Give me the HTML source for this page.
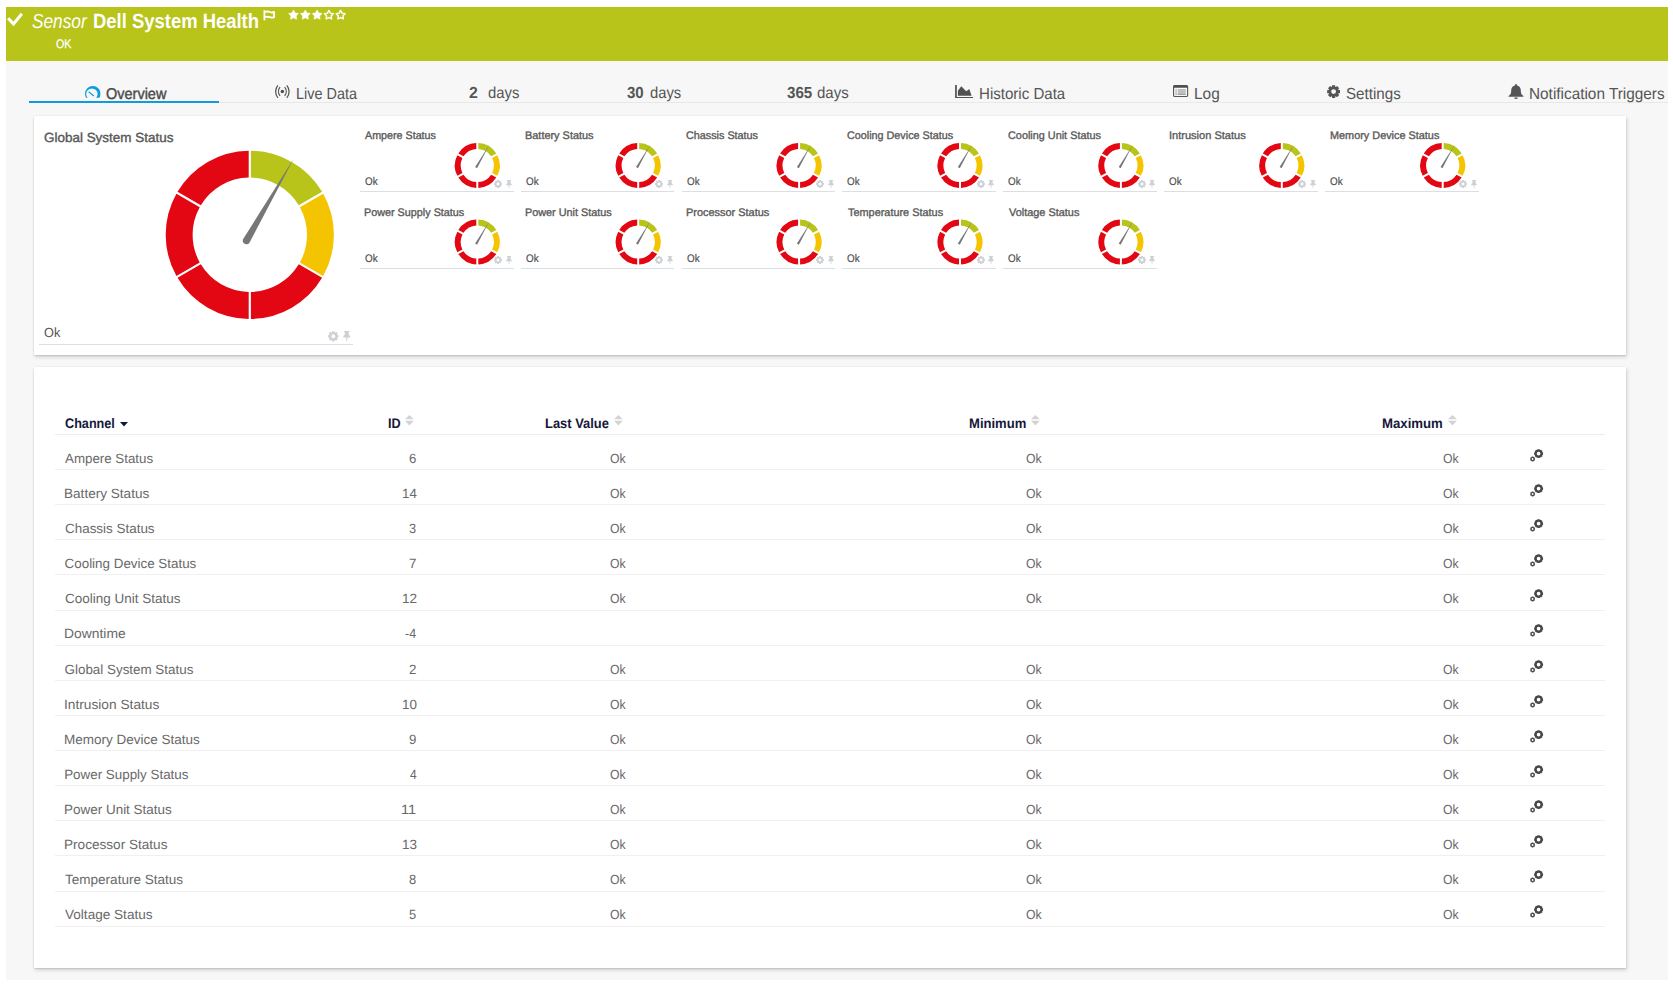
<!DOCTYPE html>
<html><head><meta charset="utf-8"><title>Sensor Dell System Health</title>
<style>
*{box-sizing:border-box}
html,body{margin:0;padding:0}
body{width:1673px;height:987px;background:#fff;position:relative;overflow:hidden;font-family:"Liberation Sans",sans-serif;color:#555;text-rendering:geometricPrecision}
.a{position:absolute;white-space:nowrap;line-height:1;transform-origin:0 0}
#bg{left:6px;top:7px;width:1662px;height:973px;background:#f7f7f7}
#hdr{left:6px;top:7px;width:1662px;height:54px;background:#b8c41a}
.card{background:#fff;box-shadow:1px 1.5px 4px rgba(0,0,0,.15),0 1px 1.5px rgba(0,0,0,.11),-0.5px 0 1.5px rgba(0,0,0,.08)}
#c1{left:34px;top:116px;width:1592px;height:239px}
#c2{left:34px;top:367px;width:1592px;height:601px}
.ti{position:absolute}
.hl{position:absolute;height:1px;background:#dcdfe2}
.rl{position:absolute;height:1px;background:#f0f0f0;left:55px;width:1550px}
svg{position:absolute;overflow:visible}
</style></head>
<body>
<div class="a" id="bg"></div><div class="a" id="hdr"></div>
<svg style="left:0;top:0" width="40" height="40"><path fill="none" stroke="#fff" stroke-width="3" stroke-linejoin="miter" d="M8.15 18.2L13.5 23.9L21.85 13.7"/></svg>
<div class="a" style="left:31.62px;top:12px;font-size:20.2px;color:#fff;font-style:italic;transform:scaleX(0.8553);">Sensor</div>
<div class="a" style="left:93.35px;top:12px;font-size:20.6px;color:#fff;font-weight:bold;transform:scaleX(0.8954);">Dell System Health</div>
<svg style="left:262.6px;top:9.5px" width="13" height="11" viewBox="0 0 13 11"><path fill="#fff" d="M0.5 0.2H2.3V10.4H0.5Z"/><path fill="none" stroke="#fff" stroke-width="1.9" stroke-linejoin="round" d="M2.2 2.0C4.2 1.2 5.6 1.4 6.9 2.0C8.3 2.6 9.8 2.6 11.1 1.9V7.1C9.8 7.8 8.3 7.8 6.9 7.2C5.6 6.6 4.2 6.4 2.2 7.2"/></svg>
<svg style="left:0;top:0" width="400" height="40">
<path fill="#fff" stroke="#fff" stroke-width="0.6" stroke-linejoin="round" d="M293.55 9.95L295.17 12.88L298.45 13.51L296.17 15.95L296.58 19.27L293.55 17.85L290.52 19.27L290.93 15.95L288.65 13.51L291.93 12.88Z"/>
<path fill="#fff" stroke="#fff" stroke-width="0.6" stroke-linejoin="round" d="M305.32 9.95L306.94 12.88L310.22 13.51L307.94 15.95L308.35 19.27L305.32 17.85L302.29 19.27L302.70 15.95L300.42 13.51L303.70 12.88Z"/>
<path fill="#fff" stroke="#fff" stroke-width="0.6" stroke-linejoin="round" d="M317.09 9.95L318.71 12.88L321.99 13.51L319.71 15.95L320.12 19.27L317.09 17.85L314.06 19.27L314.47 15.95L312.19 13.51L315.47 12.88Z"/>
<path fill="none" stroke="#fff" stroke-width="1.45" stroke-linejoin="round" d="M328.86 10.40L330.30 13.12L333.33 13.65L331.19 15.86L331.62 18.90L328.86 17.55L326.10 18.90L326.53 15.86L324.39 13.65L327.42 13.12Z"/>
<path fill="none" stroke="#fff" stroke-width="1.45" stroke-linejoin="round" d="M340.63 10.40L342.07 13.12L345.10 13.65L342.96 15.86L343.39 18.90L340.63 17.55L337.87 18.90L338.30 15.86L336.16 13.65L339.19 13.12Z"/>
</svg>
<div class="a" style="left:55.60px;top:38px;font-size:12.4px;color:#fff;transform:scaleX(0.8622);-webkit-text-stroke:0.3px #fff;">OK</div>
<div class="a" style="left:29px;top:102px;width:1639px;height:1px;background:#e8e8e8"></div>
<div class="a" style="left:29px;top:101px;width:190px;height:2px;background:#0f9cdb"></div>
<div class="a" style="left:105.98px;top:87px;font-size:15.6px;color:#4a4a4a;transform:scaleX(0.9289);-webkit-text-stroke:0.4px #4a4a4a;">Overview</div>
<div class="a" style="left:295.80px;top:87px;font-size:16px;color:#555;transform:scaleX(0.9017);">Live Data</div>
<div class="a" style="left:469.18px;top:86px;font-size:16px;color:#555;font-weight:bold;transform:scaleX(0.9885);">2</div>
<div class="a" style="left:487.86px;top:86px;font-size:16px;color:#555;transform:scaleX(0.9280);">days</div>
<div class="a" style="left:627.05px;top:86px;font-size:16px;color:#555;font-weight:bold;transform:scaleX(0.9380);">30</div>
<div class="a" style="left:649.66px;top:86px;font-size:16px;color:#555;transform:scaleX(0.9249);">days</div>
<div class="a" style="left:787.15px;top:86px;font-size:16px;color:#555;font-weight:bold;transform:scaleX(0.9458);">365</div>
<div class="a" style="left:816.85px;top:86px;font-size:16px;color:#555;transform:scaleX(0.9372);">days</div>
<div class="a" style="left:978.75px;top:87px;font-size:16px;color:#555;transform:scaleX(0.9412);">Historic Data</div>
<div class="a" style="left:1194.22px;top:87px;font-size:16px;color:#555;transform:scaleX(0.9637);">Log</div>
<div class="a" style="left:1345.77px;top:87px;font-size:16px;color:#555;transform:scaleX(0.9472);">Settings</div>
<div class="a" style="left:1528.82px;top:87px;font-size:16px;color:#555;transform:scaleX(0.9593);">Notification Triggers</div>
<svg style="left:84.5px;top:85.7px" width="15.6" height="12.3" viewBox="0 0 15.6 12.3"><defs><clipPath id="ovc"><rect x="0" y="0" width="15.6" height="11.8"/></clipPath></defs><path clip-path="url(#ovc)" fill="#0f9cdb" fill-rule="evenodd" d="M0 7.8A7.8 7.8 0 1 0 15.6 7.8A7.8 7.8 0 1 0 0 7.8ZM1.2 8.1A5.7 5.7 0 1 0 12.6 8.1A5.7 5.7 0 1 0 1.2 8.1Z"/><path stroke="#0f9cdb" stroke-width="1.15" stroke-linecap="round" d="M8.6 9.7L3.9 6.0"/></svg>
<svg style="left:274px;top:85px" width="17" height="13.5" viewBox="0 0 17 13.5"><circle cx="8.35" cy="6.55" r="1.75" fill="#4f4f4f"/><path fill="none" stroke="#555" stroke-width="1.25" d="M3.9 0.3A9.7 9.7 0 0 0 3.9 12.8M12.8 0.3A9.7 9.7 0 0 1 12.8 12.8M6.05 2.2A6.8 6.8 0 0 0 6.05 10.9M10.65 2.2A6.8 6.8 0 0 1 10.65 10.9"/></svg>
<svg style="left:955px;top:85px" width="18" height="13" viewBox="0 0 18 13"><path fill="#505050" d="M0.1 0H1.8V11.9H18V13H0.1ZM2.9 10.7V5.8L6.3 1.2L11.2 6.3L14.3 3.9L16.6 10.7Z"/></svg>
<svg style="left:1173px;top:85.1px" width="15.2" height="12.1" viewBox="0 0 15.2 12.1"><rect x="0.55" y="0.55" width="14.1" height="11" rx="1.3" fill="none" stroke="#555" stroke-width="1.1"/><path d="M0.4 1.2Q0.4 0.2 1.6 0.2H13.6Q14.8 0.2 14.8 1.2V2.7H0.4Z" fill="#4f4f4f"/><path stroke="#8a8a8a" stroke-width="1" d="M2.4 5H3.8M4.8 5H12.8M2.4 7H3.8M4.8 7H12.8"/><path stroke="#666" stroke-width="1" d="M2.4 9.1H3.8M4.8 9.1H12.8"/></svg>
<svg style="left:1326.9px;top:84.9px" width="13.2" height="13.2" viewBox="0 0 20 20"><path fill="#555" fill-rule="evenodd" d="M7.51 2.72L7.67 0.28L12.33 0.28L12.49 2.72L13.39 3.09L15.22 1.47L18.53 4.78L16.91 6.61L17.28 7.51L19.72 7.67L19.72 12.33L17.28 12.49L16.91 13.39L18.53 15.22L15.22 18.53L13.39 16.91L12.49 17.28L12.33 19.72L7.67 19.72L7.51 17.28L6.61 16.91L4.78 18.53L1.47 15.22L3.09 13.39L2.72 12.49L0.28 12.33L0.28 7.67L2.72 7.51L3.09 6.61L1.47 4.78L4.78 1.47L6.61 3.09ZM6.30 10.00A3.70 3.70 0 1 0 13.70 10.00A3.70 3.70 0 1 0 6.30 10.00Z"/></svg>
<svg style="left:1508px;top:84px" width="16" height="15" viewBox="0 0 16 15"><path fill="#555" d="M8 0.2C8.7 0.2 9.2 0.7 9.2 1.4C11.6 2 12.8 4 12.8 6.4C12.8 9.4 13.6 10.6 15.4 12V12.8H0.6V12C2.4 10.6 3.2 9.4 3.2 6.4C3.2 4 4.4 2 6.8 1.4C6.8 0.7 7.3 0.2 8 0.2ZM6.2 13.4H9.8A1.8 1.6 0 0 1 6.2 13.4Z"/></svg>
<div class="a card" id="c1"></div><div class="a card" id="c2"></div>
<div class="a" style="left:44.08px;top:131px;font-size:13.3px;color:#595959;transform:scaleX(1.0118);-webkit-text-stroke:0.4px #595959;">Global System Status</div>
<div class="a" style="left:43.68px;top:326px;font-size:13.3px;color:#555;transform:scaleX(0.9567);">Ok</div>
<div class="hl" style="left:39px;top:344px;width:314px"></div>
<svg style="left:0;top:0" width="1673" height="400">
<path fill="#b8c41a" d="M250.90 150.71A84.10 84.10 0 0 1 322.08 191.80L298.78 205.25A57.20 57.20 0 0 0 250.90 177.61Z"/><path fill="#f5c400" d="M323.18 193.71A84.10 84.10 0 0 1 323.18 275.89L299.88 262.44A57.20 57.20 0 0 0 299.88 207.16Z"/><path fill="#e30613" d="M322.08 277.80A84.10 84.10 0 0 1 250.90 318.89L250.90 291.99A57.20 57.20 0 0 0 298.78 264.35Z"/><path fill="#e30613" d="M248.70 318.89A84.10 84.10 0 0 1 177.52 277.80L200.82 264.35A57.20 57.20 0 0 0 248.70 291.99Z"/><path fill="#e30613" d="M176.42 275.89A84.10 84.10 0 0 1 176.42 193.71L199.72 207.16A57.20 57.20 0 0 0 199.72 262.44Z"/><path fill="#e30613" d="M177.52 191.80A84.10 84.10 0 0 1 248.70 150.71L248.70 177.61A57.20 57.20 0 0 0 200.82 205.25Z"/><path fill="#777" d="M293.80 158.59L249.57 242.40A3.60 3.60 0 0 1 243.33 238.80Z"/>
<path fill="#b8c41a" d="M478.30 143.02A22.50 22.50 0 0 1 496.27 153.40L491.15 156.35A16.60 16.60 0 0 0 478.30 148.93Z"/><path fill="#f5c400" d="M497.27 155.13A22.50 22.50 0 0 1 497.27 175.87L492.15 172.92A16.60 16.60 0 0 0 492.15 158.08Z"/><path fill="#e30613" d="M496.27 177.60A22.50 22.50 0 0 1 478.30 187.98L478.30 182.07A16.60 16.60 0 0 0 491.15 174.65Z"/><path fill="#e30613" d="M476.30 187.98A22.50 22.50 0 0 1 458.33 177.60L463.45 174.65A16.60 16.60 0 0 0 476.30 182.07Z"/><path fill="#e30613" d="M457.33 175.87A22.50 22.50 0 0 1 457.33 155.13L462.45 158.08A16.60 16.60 0 0 0 462.45 172.92Z"/><path fill="#e30613" d="M458.33 153.40A22.50 22.50 0 0 1 476.30 143.02L476.30 148.93A16.60 16.60 0 0 0 463.45 156.35Z"/><path fill="#777" d="M489.20 144.89L477.05 168.13L475.15 167.03Z"/>
<path fill="#b8c41a" d="M639.20 143.02A22.50 22.50 0 0 1 657.17 153.40L652.05 156.35A16.60 16.60 0 0 0 639.20 148.93Z"/><path fill="#f5c400" d="M658.17 155.13A22.50 22.50 0 0 1 658.17 175.87L653.05 172.92A16.60 16.60 0 0 0 653.05 158.08Z"/><path fill="#e30613" d="M657.17 177.60A22.50 22.50 0 0 1 639.20 187.98L639.20 182.07A16.60 16.60 0 0 0 652.05 174.65Z"/><path fill="#e30613" d="M637.20 187.98A22.50 22.50 0 0 1 619.23 177.60L624.35 174.65A16.60 16.60 0 0 0 637.20 182.07Z"/><path fill="#e30613" d="M618.23 175.87A22.50 22.50 0 0 1 618.23 155.13L623.35 158.08A16.60 16.60 0 0 0 623.35 172.92Z"/><path fill="#e30613" d="M619.23 153.40A22.50 22.50 0 0 1 637.20 143.02L637.20 148.93A16.60 16.60 0 0 0 624.35 156.35Z"/><path fill="#777" d="M650.10 144.89L637.95 168.13L636.05 167.03Z"/>
<path fill="#b8c41a" d="M800.10 143.02A22.50 22.50 0 0 1 818.07 153.40L812.95 156.35A16.60 16.60 0 0 0 800.10 148.93Z"/><path fill="#f5c400" d="M819.07 155.13A22.50 22.50 0 0 1 819.07 175.87L813.95 172.92A16.60 16.60 0 0 0 813.95 158.08Z"/><path fill="#e30613" d="M818.07 177.60A22.50 22.50 0 0 1 800.10 187.98L800.10 182.07A16.60 16.60 0 0 0 812.95 174.65Z"/><path fill="#e30613" d="M798.10 187.98A22.50 22.50 0 0 1 780.13 177.60L785.25 174.65A16.60 16.60 0 0 0 798.10 182.07Z"/><path fill="#e30613" d="M779.13 175.87A22.50 22.50 0 0 1 779.13 155.13L784.25 158.08A16.60 16.60 0 0 0 784.25 172.92Z"/><path fill="#e30613" d="M780.13 153.40A22.50 22.50 0 0 1 798.10 143.02L798.10 148.93A16.60 16.60 0 0 0 785.25 156.35Z"/><path fill="#777" d="M811.00 144.89L798.85 168.13L796.95 167.03Z"/>
<path fill="#b8c41a" d="M961.00 143.02A22.50 22.50 0 0 1 978.97 153.40L973.85 156.35A16.60 16.60 0 0 0 961.00 148.93Z"/><path fill="#f5c400" d="M979.97 155.13A22.50 22.50 0 0 1 979.97 175.87L974.85 172.92A16.60 16.60 0 0 0 974.85 158.08Z"/><path fill="#e30613" d="M978.97 177.60A22.50 22.50 0 0 1 961.00 187.98L961.00 182.07A16.60 16.60 0 0 0 973.85 174.65Z"/><path fill="#e30613" d="M959.00 187.98A22.50 22.50 0 0 1 941.03 177.60L946.15 174.65A16.60 16.60 0 0 0 959.00 182.07Z"/><path fill="#e30613" d="M940.03 175.87A22.50 22.50 0 0 1 940.03 155.13L945.15 158.08A16.60 16.60 0 0 0 945.15 172.92Z"/><path fill="#e30613" d="M941.03 153.40A22.50 22.50 0 0 1 959.00 143.02L959.00 148.93A16.60 16.60 0 0 0 946.15 156.35Z"/><path fill="#777" d="M971.90 144.89L959.75 168.13L957.85 167.03Z"/>
<path fill="#b8c41a" d="M1121.90 143.02A22.50 22.50 0 0 1 1139.87 153.40L1134.75 156.35A16.60 16.60 0 0 0 1121.90 148.93Z"/><path fill="#f5c400" d="M1140.87 155.13A22.50 22.50 0 0 1 1140.87 175.87L1135.75 172.92A16.60 16.60 0 0 0 1135.75 158.08Z"/><path fill="#e30613" d="M1139.87 177.60A22.50 22.50 0 0 1 1121.90 187.98L1121.90 182.07A16.60 16.60 0 0 0 1134.75 174.65Z"/><path fill="#e30613" d="M1119.90 187.98A22.50 22.50 0 0 1 1101.93 177.60L1107.05 174.65A16.60 16.60 0 0 0 1119.90 182.07Z"/><path fill="#e30613" d="M1100.93 175.87A22.50 22.50 0 0 1 1100.93 155.13L1106.05 158.08A16.60 16.60 0 0 0 1106.05 172.92Z"/><path fill="#e30613" d="M1101.93 153.40A22.50 22.50 0 0 1 1119.90 143.02L1119.90 148.93A16.60 16.60 0 0 0 1107.05 156.35Z"/><path fill="#777" d="M1132.80 144.89L1120.65 168.13L1118.75 167.03Z"/>
<path fill="#b8c41a" d="M1282.80 143.02A22.50 22.50 0 0 1 1300.77 153.40L1295.65 156.35A16.60 16.60 0 0 0 1282.80 148.93Z"/><path fill="#f5c400" d="M1301.77 155.13A22.50 22.50 0 0 1 1301.77 175.87L1296.65 172.92A16.60 16.60 0 0 0 1296.65 158.08Z"/><path fill="#e30613" d="M1300.77 177.60A22.50 22.50 0 0 1 1282.80 187.98L1282.80 182.07A16.60 16.60 0 0 0 1295.65 174.65Z"/><path fill="#e30613" d="M1280.80 187.98A22.50 22.50 0 0 1 1262.83 177.60L1267.95 174.65A16.60 16.60 0 0 0 1280.80 182.07Z"/><path fill="#e30613" d="M1261.83 175.87A22.50 22.50 0 0 1 1261.83 155.13L1266.95 158.08A16.60 16.60 0 0 0 1266.95 172.92Z"/><path fill="#e30613" d="M1262.83 153.40A22.50 22.50 0 0 1 1280.80 143.02L1280.80 148.93A16.60 16.60 0 0 0 1267.95 156.35Z"/><path fill="#777" d="M1293.70 144.89L1281.55 168.13L1279.65 167.03Z"/>
<path fill="#b8c41a" d="M1443.70 143.02A22.50 22.50 0 0 1 1461.67 153.40L1456.55 156.35A16.60 16.60 0 0 0 1443.70 148.93Z"/><path fill="#f5c400" d="M1462.67 155.13A22.50 22.50 0 0 1 1462.67 175.87L1457.55 172.92A16.60 16.60 0 0 0 1457.55 158.08Z"/><path fill="#e30613" d="M1461.67 177.60A22.50 22.50 0 0 1 1443.70 187.98L1443.70 182.07A16.60 16.60 0 0 0 1456.55 174.65Z"/><path fill="#e30613" d="M1441.70 187.98A22.50 22.50 0 0 1 1423.73 177.60L1428.85 174.65A16.60 16.60 0 0 0 1441.70 182.07Z"/><path fill="#e30613" d="M1422.73 175.87A22.50 22.50 0 0 1 1422.73 155.13L1427.85 158.08A16.60 16.60 0 0 0 1427.85 172.92Z"/><path fill="#e30613" d="M1423.73 153.40A22.50 22.50 0 0 1 1441.70 143.02L1441.70 148.93A16.60 16.60 0 0 0 1428.85 156.35Z"/><path fill="#777" d="M1454.60 144.89L1442.45 168.13L1440.55 167.03Z"/>
<path fill="#b8c41a" d="M478.30 219.52A22.50 22.50 0 0 1 496.27 229.90L491.15 232.85A16.60 16.60 0 0 0 478.30 225.43Z"/><path fill="#f5c400" d="M497.27 231.63A22.50 22.50 0 0 1 497.27 252.37L492.15 249.42A16.60 16.60 0 0 0 492.15 234.58Z"/><path fill="#e30613" d="M496.27 254.10A22.50 22.50 0 0 1 478.30 264.48L478.30 258.57A16.60 16.60 0 0 0 491.15 251.15Z"/><path fill="#e30613" d="M476.30 264.48A22.50 22.50 0 0 1 458.33 254.10L463.45 251.15A16.60 16.60 0 0 0 476.30 258.57Z"/><path fill="#e30613" d="M457.33 252.37A22.50 22.50 0 0 1 457.33 231.63L462.45 234.58A16.60 16.60 0 0 0 462.45 249.42Z"/><path fill="#e30613" d="M458.33 229.90A22.50 22.50 0 0 1 476.30 219.52L476.30 225.43A16.60 16.60 0 0 0 463.45 232.85Z"/><path fill="#777" d="M489.20 221.39L477.05 244.63L475.15 243.53Z"/>
<path fill="#b8c41a" d="M639.20 219.52A22.50 22.50 0 0 1 657.17 229.90L652.05 232.85A16.60 16.60 0 0 0 639.20 225.43Z"/><path fill="#f5c400" d="M658.17 231.63A22.50 22.50 0 0 1 658.17 252.37L653.05 249.42A16.60 16.60 0 0 0 653.05 234.58Z"/><path fill="#e30613" d="M657.17 254.10A22.50 22.50 0 0 1 639.20 264.48L639.20 258.57A16.60 16.60 0 0 0 652.05 251.15Z"/><path fill="#e30613" d="M637.20 264.48A22.50 22.50 0 0 1 619.23 254.10L624.35 251.15A16.60 16.60 0 0 0 637.20 258.57Z"/><path fill="#e30613" d="M618.23 252.37A22.50 22.50 0 0 1 618.23 231.63L623.35 234.58A16.60 16.60 0 0 0 623.35 249.42Z"/><path fill="#e30613" d="M619.23 229.90A22.50 22.50 0 0 1 637.20 219.52L637.20 225.43A16.60 16.60 0 0 0 624.35 232.85Z"/><path fill="#777" d="M650.10 221.39L637.95 244.63L636.05 243.53Z"/>
<path fill="#b8c41a" d="M800.10 219.52A22.50 22.50 0 0 1 818.07 229.90L812.95 232.85A16.60 16.60 0 0 0 800.10 225.43Z"/><path fill="#f5c400" d="M819.07 231.63A22.50 22.50 0 0 1 819.07 252.37L813.95 249.42A16.60 16.60 0 0 0 813.95 234.58Z"/><path fill="#e30613" d="M818.07 254.10A22.50 22.50 0 0 1 800.10 264.48L800.10 258.57A16.60 16.60 0 0 0 812.95 251.15Z"/><path fill="#e30613" d="M798.10 264.48A22.50 22.50 0 0 1 780.13 254.10L785.25 251.15A16.60 16.60 0 0 0 798.10 258.57Z"/><path fill="#e30613" d="M779.13 252.37A22.50 22.50 0 0 1 779.13 231.63L784.25 234.58A16.60 16.60 0 0 0 784.25 249.42Z"/><path fill="#e30613" d="M780.13 229.90A22.50 22.50 0 0 1 798.10 219.52L798.10 225.43A16.60 16.60 0 0 0 785.25 232.85Z"/><path fill="#777" d="M811.00 221.39L798.85 244.63L796.95 243.53Z"/>
<path fill="#b8c41a" d="M961.00 219.52A22.50 22.50 0 0 1 978.97 229.90L973.85 232.85A16.60 16.60 0 0 0 961.00 225.43Z"/><path fill="#f5c400" d="M979.97 231.63A22.50 22.50 0 0 1 979.97 252.37L974.85 249.42A16.60 16.60 0 0 0 974.85 234.58Z"/><path fill="#e30613" d="M978.97 254.10A22.50 22.50 0 0 1 961.00 264.48L961.00 258.57A16.60 16.60 0 0 0 973.85 251.15Z"/><path fill="#e30613" d="M959.00 264.48A22.50 22.50 0 0 1 941.03 254.10L946.15 251.15A16.60 16.60 0 0 0 959.00 258.57Z"/><path fill="#e30613" d="M940.03 252.37A22.50 22.50 0 0 1 940.03 231.63L945.15 234.58A16.60 16.60 0 0 0 945.15 249.42Z"/><path fill="#e30613" d="M941.03 229.90A22.50 22.50 0 0 1 959.00 219.52L959.00 225.43A16.60 16.60 0 0 0 946.15 232.85Z"/><path fill="#777" d="M971.90 221.39L959.75 244.63L957.85 243.53Z"/>
<path fill="#b8c41a" d="M1121.90 219.52A22.50 22.50 0 0 1 1139.87 229.90L1134.75 232.85A16.60 16.60 0 0 0 1121.90 225.43Z"/><path fill="#f5c400" d="M1140.87 231.63A22.50 22.50 0 0 1 1140.87 252.37L1135.75 249.42A16.60 16.60 0 0 0 1135.75 234.58Z"/><path fill="#e30613" d="M1139.87 254.10A22.50 22.50 0 0 1 1121.90 264.48L1121.90 258.57A16.60 16.60 0 0 0 1134.75 251.15Z"/><path fill="#e30613" d="M1119.90 264.48A22.50 22.50 0 0 1 1101.93 254.10L1107.05 251.15A16.60 16.60 0 0 0 1119.90 258.57Z"/><path fill="#e30613" d="M1100.93 252.37A22.50 22.50 0 0 1 1100.93 231.63L1106.05 234.58A16.60 16.60 0 0 0 1106.05 249.42Z"/><path fill="#e30613" d="M1101.93 229.90A22.50 22.50 0 0 1 1119.90 219.52L1119.90 225.43A16.60 16.60 0 0 0 1107.05 232.85Z"/><path fill="#777" d="M1132.80 221.39L1120.65 244.63L1118.75 243.53Z"/>
</svg>
<svg class="ti" style="left:328.4px;top:330.6px" width="10.6" height="10.6" viewBox="0 0 20 20"><path fill="#cdd1d5" fill-rule="evenodd" d="M7.51 2.72L7.67 0.28L12.33 0.28L12.49 2.72L13.39 3.09L15.22 1.47L18.53 4.78L16.91 6.61L17.28 7.51L19.72 7.67L19.72 12.33L17.28 12.49L16.91 13.39L18.53 15.22L15.22 18.53L13.39 16.91L12.49 17.28L12.33 19.72L7.67 19.72L7.51 17.28L6.61 16.91L4.78 18.53L1.47 15.22L3.09 13.39L2.72 12.49L0.28 12.33L0.28 7.67L2.72 7.51L3.09 6.61L1.47 4.78L4.78 1.47L6.61 3.09ZM6.30 10.00A3.70 3.70 0 1 0 13.70 10.00A3.70 3.70 0 1 0 6.30 10.00Z"/></svg><svg class="ti" style="left:342.8px;top:330.9px" width="7.56" height="10.80" viewBox="0 0 14 20"><path fill="#cdd1d5" d="M2 0H12V1.8H10.6V7C12.6 8 13.6 9.8 13.6 12H7.9V17.5L7 20L6.1 17.5V12H0.4C0.4 9.8 1.4 8 3.4 7V1.8H2Z"/></svg>
<div class="a" style="left:365.22px;top:131px;font-size:11px;color:#595959;transform:scaleX(0.9743);-webkit-text-stroke:0.35px #595959;">Ampere Status</div>
<div class="a" style="left:364.70px;top:177px;font-size:11.1px;color:#505050;transform:scaleX(0.8859);-webkit-text-stroke:0.2px #505050;">Ok</div>
<div class="hl" style="left:359.7px;top:191.0px;width:153.9px"></div>
<svg class="ti" style="left:493.9px;top:179.8px" width="8.0" height="8.0" viewBox="0 0 20 20"><path fill="#cdd1d5" fill-rule="evenodd" d="M7.51 2.72L7.67 0.28L12.33 0.28L12.49 2.72L13.39 3.09L15.22 1.47L18.53 4.78L16.91 6.61L17.28 7.51L19.72 7.67L19.72 12.33L17.28 12.49L16.91 13.39L18.53 15.22L15.22 18.53L13.39 16.91L12.49 17.28L12.33 19.72L7.67 19.72L7.51 17.28L6.61 16.91L4.78 18.53L1.47 15.22L3.09 13.39L2.72 12.49L0.28 12.33L0.28 7.67L2.72 7.51L3.09 6.61L1.47 4.78L4.78 1.47L6.61 3.09ZM6.30 10.00A3.70 3.70 0 1 0 13.70 10.00A3.70 3.70 0 1 0 6.30 10.00Z"/></svg><svg class="ti" style="left:505.7px;top:179.6px" width="6.02" height="8.60" viewBox="0 0 14 20"><path fill="#cdd1d5" d="M2 0H12V1.8H10.6V7C12.6 8 13.6 9.8 13.6 12H7.9V17.5L7 20L6.1 17.5V12H0.4C0.4 9.8 1.4 8 3.4 7V1.8H2Z"/></svg>
<div class="a" style="left:525.25px;top:131px;font-size:11px;color:#595959;transform:scaleX(0.9923);-webkit-text-stroke:0.35px #595959;">Battery Status</div>
<div class="a" style="left:525.60px;top:177px;font-size:11.1px;color:#505050;transform:scaleX(0.8859);-webkit-text-stroke:0.2px #505050;">Ok</div>
<div class="hl" style="left:520.6px;top:191.0px;width:153.9px"></div>
<svg class="ti" style="left:654.8px;top:179.8px" width="8.0" height="8.0" viewBox="0 0 20 20"><path fill="#cdd1d5" fill-rule="evenodd" d="M7.51 2.72L7.67 0.28L12.33 0.28L12.49 2.72L13.39 3.09L15.22 1.47L18.53 4.78L16.91 6.61L17.28 7.51L19.72 7.67L19.72 12.33L17.28 12.49L16.91 13.39L18.53 15.22L15.22 18.53L13.39 16.91L12.49 17.28L12.33 19.72L7.67 19.72L7.51 17.28L6.61 16.91L4.78 18.53L1.47 15.22L3.09 13.39L2.72 12.49L0.28 12.33L0.28 7.67L2.72 7.51L3.09 6.61L1.47 4.78L4.78 1.47L6.61 3.09ZM6.30 10.00A3.70 3.70 0 1 0 13.70 10.00A3.70 3.70 0 1 0 6.30 10.00Z"/></svg><svg class="ti" style="left:666.6px;top:179.6px" width="6.02" height="8.60" viewBox="0 0 14 20"><path fill="#cdd1d5" d="M2 0H12V1.8H10.6V7C12.6 8 13.6 9.8 13.6 12H7.9V17.5L7 20L6.1 17.5V12H0.4C0.4 9.8 1.4 8 3.4 7V1.8H2Z"/></svg>
<div class="a" style="left:686.48px;top:131px;font-size:11px;color:#595959;transform:scaleX(0.9817);-webkit-text-stroke:0.35px #595959;">Chassis Status</div>
<div class="a" style="left:686.50px;top:177px;font-size:11.1px;color:#505050;transform:scaleX(0.8859);-webkit-text-stroke:0.2px #505050;">Ok</div>
<div class="hl" style="left:681.5px;top:191.0px;width:153.9px"></div>
<svg class="ti" style="left:815.7px;top:179.8px" width="8.0" height="8.0" viewBox="0 0 20 20"><path fill="#cdd1d5" fill-rule="evenodd" d="M7.51 2.72L7.67 0.28L12.33 0.28L12.49 2.72L13.39 3.09L15.22 1.47L18.53 4.78L16.91 6.61L17.28 7.51L19.72 7.67L19.72 12.33L17.28 12.49L16.91 13.39L18.53 15.22L15.22 18.53L13.39 16.91L12.49 17.28L12.33 19.72L7.67 19.72L7.51 17.28L6.61 16.91L4.78 18.53L1.47 15.22L3.09 13.39L2.72 12.49L0.28 12.33L0.28 7.67L2.72 7.51L3.09 6.61L1.47 4.78L4.78 1.47L6.61 3.09ZM6.30 10.00A3.70 3.70 0 1 0 13.70 10.00A3.70 3.70 0 1 0 6.30 10.00Z"/></svg><svg class="ti" style="left:827.5px;top:179.6px" width="6.02" height="8.60" viewBox="0 0 14 20"><path fill="#cdd1d5" d="M2 0H12V1.8H10.6V7C12.6 8 13.6 9.8 13.6 12H7.9V17.5L7 20L6.1 17.5V12H0.4C0.4 9.8 1.4 8 3.4 7V1.8H2Z"/></svg>
<div class="a" style="left:847.38px;top:131px;font-size:11px;color:#595959;transform:scaleX(0.9806);-webkit-text-stroke:0.35px #595959;">Cooling Device Status</div>
<div class="a" style="left:847.40px;top:177px;font-size:11.1px;color:#505050;transform:scaleX(0.8859);-webkit-text-stroke:0.2px #505050;">Ok</div>
<div class="hl" style="left:842.4px;top:191.0px;width:153.9px"></div>
<svg class="ti" style="left:976.6px;top:179.8px" width="8.0" height="8.0" viewBox="0 0 20 20"><path fill="#cdd1d5" fill-rule="evenodd" d="M7.51 2.72L7.67 0.28L12.33 0.28L12.49 2.72L13.39 3.09L15.22 1.47L18.53 4.78L16.91 6.61L17.28 7.51L19.72 7.67L19.72 12.33L17.28 12.49L16.91 13.39L18.53 15.22L15.22 18.53L13.39 16.91L12.49 17.28L12.33 19.72L7.67 19.72L7.51 17.28L6.61 16.91L4.78 18.53L1.47 15.22L3.09 13.39L2.72 12.49L0.28 12.33L0.28 7.67L2.72 7.51L3.09 6.61L1.47 4.78L4.78 1.47L6.61 3.09ZM6.30 10.00A3.70 3.70 0 1 0 13.70 10.00A3.70 3.70 0 1 0 6.30 10.00Z"/></svg><svg class="ti" style="left:988.4px;top:179.6px" width="6.02" height="8.60" viewBox="0 0 14 20"><path fill="#cdd1d5" d="M2 0H12V1.8H10.6V7C12.6 8 13.6 9.8 13.6 12H7.9V17.5L7 20L6.1 17.5V12H0.4C0.4 9.8 1.4 8 3.4 7V1.8H2Z"/></svg>
<div class="a" style="left:1008.28px;top:131px;font-size:11px;color:#595959;transform:scaleX(0.9869);-webkit-text-stroke:0.35px #595959;">Cooling Unit Status</div>
<div class="a" style="left:1008.30px;top:177px;font-size:11.1px;color:#505050;transform:scaleX(0.8859);-webkit-text-stroke:0.2px #505050;">Ok</div>
<div class="hl" style="left:1003.3px;top:191.0px;width:153.9px"></div>
<svg class="ti" style="left:1137.5px;top:179.8px" width="8.0" height="8.0" viewBox="0 0 20 20"><path fill="#cdd1d5" fill-rule="evenodd" d="M7.51 2.72L7.67 0.28L12.33 0.28L12.49 2.72L13.39 3.09L15.22 1.47L18.53 4.78L16.91 6.61L17.28 7.51L19.72 7.67L19.72 12.33L17.28 12.49L16.91 13.39L18.53 15.22L15.22 18.53L13.39 16.91L12.49 17.28L12.33 19.72L7.67 19.72L7.51 17.28L6.61 16.91L4.78 18.53L1.47 15.22L3.09 13.39L2.72 12.49L0.28 12.33L0.28 7.67L2.72 7.51L3.09 6.61L1.47 4.78L4.78 1.47L6.61 3.09ZM6.30 10.00A3.70 3.70 0 1 0 13.70 10.00A3.70 3.70 0 1 0 6.30 10.00Z"/></svg><svg class="ti" style="left:1149.3px;top:179.6px" width="6.02" height="8.60" viewBox="0 0 14 20"><path fill="#cdd1d5" d="M2 0H12V1.8H10.6V7C12.6 8 13.6 9.8 13.6 12H7.9V17.5L7 20L6.1 17.5V12H0.4C0.4 9.8 1.4 8 3.4 7V1.8H2Z"/></svg>
<div class="a" style="left:1168.73px;top:131px;font-size:11px;color:#595959;transform:scaleX(1.0032);-webkit-text-stroke:0.35px #595959;">Intrusion Status</div>
<div class="a" style="left:1169.20px;top:177px;font-size:11.1px;color:#505050;transform:scaleX(0.8859);-webkit-text-stroke:0.2px #505050;">Ok</div>
<div class="hl" style="left:1164.2px;top:191.0px;width:153.9px"></div>
<svg class="ti" style="left:1298.4px;top:179.8px" width="8.0" height="8.0" viewBox="0 0 20 20"><path fill="#cdd1d5" fill-rule="evenodd" d="M7.51 2.72L7.67 0.28L12.33 0.28L12.49 2.72L13.39 3.09L15.22 1.47L18.53 4.78L16.91 6.61L17.28 7.51L19.72 7.67L19.72 12.33L17.28 12.49L16.91 13.39L18.53 15.22L15.22 18.53L13.39 16.91L12.49 17.28L12.33 19.72L7.67 19.72L7.51 17.28L6.61 16.91L4.78 18.53L1.47 15.22L3.09 13.39L2.72 12.49L0.28 12.33L0.28 7.67L2.72 7.51L3.09 6.61L1.47 4.78L4.78 1.47L6.61 3.09ZM6.30 10.00A3.70 3.70 0 1 0 13.70 10.00A3.70 3.70 0 1 0 6.30 10.00Z"/></svg><svg class="ti" style="left:1310.2px;top:179.6px" width="6.02" height="8.60" viewBox="0 0 14 20"><path fill="#cdd1d5" d="M2 0H12V1.8H10.6V7C12.6 8 13.6 9.8 13.6 12H7.9V17.5L7 20L6.1 17.5V12H0.4C0.4 9.8 1.4 8 3.4 7V1.8H2Z"/></svg>
<div class="a" style="left:1329.75px;top:131px;font-size:11px;color:#595959;transform:scaleX(0.9883);-webkit-text-stroke:0.35px #595959;">Memory Device Status</div>
<div class="a" style="left:1330.10px;top:177px;font-size:11.1px;color:#505050;transform:scaleX(0.8859);-webkit-text-stroke:0.2px #505050;">Ok</div>
<div class="hl" style="left:1325.1px;top:191.0px;width:153.9px"></div>
<svg class="ti" style="left:1459.3px;top:179.8px" width="8.0" height="8.0" viewBox="0 0 20 20"><path fill="#cdd1d5" fill-rule="evenodd" d="M7.51 2.72L7.67 0.28L12.33 0.28L12.49 2.72L13.39 3.09L15.22 1.47L18.53 4.78L16.91 6.61L17.28 7.51L19.72 7.67L19.72 12.33L17.28 12.49L16.91 13.39L18.53 15.22L15.22 18.53L13.39 16.91L12.49 17.28L12.33 19.72L7.67 19.72L7.51 17.28L6.61 16.91L4.78 18.53L1.47 15.22L3.09 13.39L2.72 12.49L0.28 12.33L0.28 7.67L2.72 7.51L3.09 6.61L1.47 4.78L4.78 1.47L6.61 3.09ZM6.30 10.00A3.70 3.70 0 1 0 13.70 10.00A3.70 3.70 0 1 0 6.30 10.00Z"/></svg><svg class="ti" style="left:1471.1px;top:179.6px" width="6.02" height="8.60" viewBox="0 0 14 20"><path fill="#cdd1d5" d="M2 0H12V1.8H10.6V7C12.6 8 13.6 9.8 13.6 12H7.9V17.5L7 20L6.1 17.5V12H0.4C0.4 9.8 1.4 8 3.4 7V1.8H2Z"/></svg>
<div class="a" style="left:364.36px;top:208px;font-size:11px;color:#595959;transform:scaleX(0.9818);-webkit-text-stroke:0.35px #595959;">Power Supply Status</div>
<div class="a" style="left:364.70px;top:254px;font-size:11.1px;color:#505050;transform:scaleX(0.8859);-webkit-text-stroke:0.2px #505050;">Ok</div>
<div class="hl" style="left:359.7px;top:267.5px;width:153.9px"></div>
<svg class="ti" style="left:493.9px;top:256.3px" width="8.0" height="8.0" viewBox="0 0 20 20"><path fill="#cdd1d5" fill-rule="evenodd" d="M7.51 2.72L7.67 0.28L12.33 0.28L12.49 2.72L13.39 3.09L15.22 1.47L18.53 4.78L16.91 6.61L17.28 7.51L19.72 7.67L19.72 12.33L17.28 12.49L16.91 13.39L18.53 15.22L15.22 18.53L13.39 16.91L12.49 17.28L12.33 19.72L7.67 19.72L7.51 17.28L6.61 16.91L4.78 18.53L1.47 15.22L3.09 13.39L2.72 12.49L0.28 12.33L0.28 7.67L2.72 7.51L3.09 6.61L1.47 4.78L4.78 1.47L6.61 3.09ZM6.30 10.00A3.70 3.70 0 1 0 13.70 10.00A3.70 3.70 0 1 0 6.30 10.00Z"/></svg><svg class="ti" style="left:505.7px;top:256.1px" width="6.02" height="8.60" viewBox="0 0 14 20"><path fill="#cdd1d5" d="M2 0H12V1.8H10.6V7C12.6 8 13.6 9.8 13.6 12H7.9V17.5L7 20L6.1 17.5V12H0.4C0.4 9.8 1.4 8 3.4 7V1.8H2Z"/></svg>
<div class="a" style="left:525.26px;top:208px;font-size:11px;color:#595959;transform:scaleX(0.9854);-webkit-text-stroke:0.35px #595959;">Power Unit Status</div>
<div class="a" style="left:525.60px;top:254px;font-size:11.1px;color:#505050;transform:scaleX(0.8859);-webkit-text-stroke:0.2px #505050;">Ok</div>
<div class="hl" style="left:520.6px;top:267.5px;width:153.9px"></div>
<svg class="ti" style="left:654.8px;top:256.3px" width="8.0" height="8.0" viewBox="0 0 20 20"><path fill="#cdd1d5" fill-rule="evenodd" d="M7.51 2.72L7.67 0.28L12.33 0.28L12.49 2.72L13.39 3.09L15.22 1.47L18.53 4.78L16.91 6.61L17.28 7.51L19.72 7.67L19.72 12.33L17.28 12.49L16.91 13.39L18.53 15.22L15.22 18.53L13.39 16.91L12.49 17.28L12.33 19.72L7.67 19.72L7.51 17.28L6.61 16.91L4.78 18.53L1.47 15.22L3.09 13.39L2.72 12.49L0.28 12.33L0.28 7.67L2.72 7.51L3.09 6.61L1.47 4.78L4.78 1.47L6.61 3.09ZM6.30 10.00A3.70 3.70 0 1 0 13.70 10.00A3.70 3.70 0 1 0 6.30 10.00Z"/></svg><svg class="ti" style="left:666.6px;top:256.1px" width="6.02" height="8.60" viewBox="0 0 14 20"><path fill="#cdd1d5" d="M2 0H12V1.8H10.6V7C12.6 8 13.6 9.8 13.6 12H7.9V17.5L7 20L6.1 17.5V12H0.4C0.4 9.8 1.4 8 3.4 7V1.8H2Z"/></svg>
<div class="a" style="left:686.15px;top:208px;font-size:11px;color:#595959;transform:scaleX(0.9941);-webkit-text-stroke:0.35px #595959;">Processor Status</div>
<div class="a" style="left:686.50px;top:254px;font-size:11.1px;color:#505050;transform:scaleX(0.8859);-webkit-text-stroke:0.2px #505050;">Ok</div>
<div class="hl" style="left:681.5px;top:267.5px;width:153.9px"></div>
<svg class="ti" style="left:815.7px;top:256.3px" width="8.0" height="8.0" viewBox="0 0 20 20"><path fill="#cdd1d5" fill-rule="evenodd" d="M7.51 2.72L7.67 0.28L12.33 0.28L12.49 2.72L13.39 3.09L15.22 1.47L18.53 4.78L16.91 6.61L17.28 7.51L19.72 7.67L19.72 12.33L17.28 12.49L16.91 13.39L18.53 15.22L15.22 18.53L13.39 16.91L12.49 17.28L12.33 19.72L7.67 19.72L7.51 17.28L6.61 16.91L4.78 18.53L1.47 15.22L3.09 13.39L2.72 12.49L0.28 12.33L0.28 7.67L2.72 7.51L3.09 6.61L1.47 4.78L4.78 1.47L6.61 3.09ZM6.30 10.00A3.70 3.70 0 1 0 13.70 10.00A3.70 3.70 0 1 0 6.30 10.00Z"/></svg><svg class="ti" style="left:827.5px;top:256.1px" width="6.02" height="8.60" viewBox="0 0 14 20"><path fill="#cdd1d5" d="M2 0H12V1.8H10.6V7C12.6 8 13.6 9.8 13.6 12H7.9V17.5L7 20L6.1 17.5V12H0.4C0.4 9.8 1.4 8 3.4 7V1.8H2Z"/></svg>
<div class="a" style="left:847.71px;top:208px;font-size:11px;color:#595959;transform:scaleX(0.9907);-webkit-text-stroke:0.35px #595959;">Temperature Status</div>
<div class="a" style="left:847.40px;top:254px;font-size:11.1px;color:#505050;transform:scaleX(0.8859);-webkit-text-stroke:0.2px #505050;">Ok</div>
<div class="hl" style="left:842.4px;top:267.5px;width:153.9px"></div>
<svg class="ti" style="left:976.6px;top:256.3px" width="8.0" height="8.0" viewBox="0 0 20 20"><path fill="#cdd1d5" fill-rule="evenodd" d="M7.51 2.72L7.67 0.28L12.33 0.28L12.49 2.72L13.39 3.09L15.22 1.47L18.53 4.78L16.91 6.61L17.28 7.51L19.72 7.67L19.72 12.33L17.28 12.49L16.91 13.39L18.53 15.22L15.22 18.53L13.39 16.91L12.49 17.28L12.33 19.72L7.67 19.72L7.51 17.28L6.61 16.91L4.78 18.53L1.47 15.22L3.09 13.39L2.72 12.49L0.28 12.33L0.28 7.67L2.72 7.51L3.09 6.61L1.47 4.78L4.78 1.47L6.61 3.09ZM6.30 10.00A3.70 3.70 0 1 0 13.70 10.00A3.70 3.70 0 1 0 6.30 10.00Z"/></svg><svg class="ti" style="left:988.4px;top:256.1px" width="6.02" height="8.60" viewBox="0 0 14 20"><path fill="#cdd1d5" d="M2 0H12V1.8H10.6V7C12.6 8 13.6 9.8 13.6 12H7.9V17.5L7 20L6.1 17.5V12H0.4C0.4 9.8 1.4 8 3.4 7V1.8H2Z"/></svg>
<div class="a" style="left:1008.82px;top:208px;font-size:11px;color:#595959;transform:scaleX(0.9922);-webkit-text-stroke:0.35px #595959;">Voltage Status</div>
<div class="a" style="left:1008.30px;top:254px;font-size:11.1px;color:#505050;transform:scaleX(0.8859);-webkit-text-stroke:0.2px #505050;">Ok</div>
<div class="hl" style="left:1003.3px;top:267.5px;width:153.9px"></div>
<svg class="ti" style="left:1137.5px;top:256.3px" width="8.0" height="8.0" viewBox="0 0 20 20"><path fill="#cdd1d5" fill-rule="evenodd" d="M7.51 2.72L7.67 0.28L12.33 0.28L12.49 2.72L13.39 3.09L15.22 1.47L18.53 4.78L16.91 6.61L17.28 7.51L19.72 7.67L19.72 12.33L17.28 12.49L16.91 13.39L18.53 15.22L15.22 18.53L13.39 16.91L12.49 17.28L12.33 19.72L7.67 19.72L7.51 17.28L6.61 16.91L4.78 18.53L1.47 15.22L3.09 13.39L2.72 12.49L0.28 12.33L0.28 7.67L2.72 7.51L3.09 6.61L1.47 4.78L4.78 1.47L6.61 3.09ZM6.30 10.00A3.70 3.70 0 1 0 13.70 10.00A3.70 3.70 0 1 0 6.30 10.00Z"/></svg><svg class="ti" style="left:1149.3px;top:256.1px" width="6.02" height="8.60" viewBox="0 0 14 20"><path fill="#cdd1d5" d="M2 0H12V1.8H10.6V7C12.6 8 13.6 9.8 13.6 12H7.9V17.5L7 20L6.1 17.5V12H0.4C0.4 9.8 1.4 8 3.4 7V1.8H2Z"/></svg>
<div class="a" style="left:64.74px;top:417px;font-size:13.9px;color:#15173a;font-weight:bold;transform:scaleX(0.9103);">Channel</div>
<svg style="left:120.2px;top:422px" width="8" height="4.6" viewBox="0 0 8 4.6"><path fill="#15173a" d="M0 0H8L4 4.6Z"/></svg>
<div class="a" style="left:387.63px;top:417px;font-size:13.9px;color:#15173a;font-weight:bold;transform:scaleX(0.9095);">ID</div>
<svg style="left:405.35px;top:415.2px" width="8.8" height="10.6" viewBox="0 0 8.8 10.6"><path fill="#d3d3d6" d="M0 4.2L4.4 0L8.8 4.2ZM0 5.7L4.4 10.6L8.8 5.7Z"/></svg>
<div class="a" style="left:545.31px;top:417px;font-size:13.9px;color:#15173a;font-weight:bold;transform:scaleX(0.9292);">Last Value</div>
<svg style="left:614.15px;top:415.2px" width="8.8" height="10.6" viewBox="0 0 8.8 10.6"><path fill="#d3d3d6" d="M0 4.2L4.4 0L8.8 4.2ZM0 5.7L4.4 10.6L8.8 5.7Z"/></svg>
<div class="a" style="left:968.70px;top:417px;font-size:13.9px;color:#15173a;font-weight:bold;transform:scaleX(0.9405);">Minimum</div>
<svg style="left:1031.15px;top:415.2px" width="8.8" height="10.6" viewBox="0 0 8.8 10.6"><path fill="#d3d3d6" d="M0 4.2L4.4 0L8.8 4.2ZM0 5.7L4.4 10.6L8.8 5.7Z"/></svg>
<div class="a" style="left:1382.19px;top:417px;font-size:13.9px;color:#15173a;font-weight:bold;transform:scaleX(0.9497);">Maximum</div>
<svg style="left:1447.95px;top:415.2px" width="8.8" height="10.6" viewBox="0 0 8.8 10.6"><path fill="#d3d3d6" d="M0 4.2L4.4 0L8.8 4.2ZM0 5.7L4.4 10.6L8.8 5.7Z"/></svg>
<div class="rl" style="top:434px;background:#ececec"></div>
<div class="a" style="left:65.25px;top:452px;font-size:13.4px;color:#696969;transform:scaleX(0.9953);">Ampere Status</div>
<div class="a" style="left:409.19px;top:452px;font-size:13.4px;color:#696969;transform:scaleX(0.9870);">6</div>
<div class="a" style="left:609.50px;top:452px;font-size:13.4px;color:#696969;transform:scaleX(0.9134);">Ok</div>
<div class="a" style="left:1026.40px;top:452px;font-size:13.4px;color:#696969;transform:scaleX(0.9134);">Ok</div>
<div class="a" style="left:1443.40px;top:452px;font-size:13.4px;color:#696969;transform:scaleX(0.9134);">Ok</div>
<svg style="left:1529.6px;top:448.7px" width="14" height="13" viewBox="0 0 14 13"><path fill="#484848" fill-rule="evenodd" d="M7.30 0.82L7.53 0.13L9.67 0.13L9.90 0.82L10.36 1.01L11.00 0.68L12.52 2.20L12.19 2.84L12.38 3.30L13.07 3.53L13.07 5.67L12.38 5.90L12.19 6.36L12.52 7.00L11.00 8.52L10.36 8.19L9.90 8.38L9.67 9.07L7.53 9.07L7.30 8.38L6.84 8.19L6.20 8.52L4.68 7.00L5.01 6.36L4.82 5.90L4.13 5.67L4.13 3.53L4.82 3.30L5.01 2.84L4.68 2.20L6.20 0.68L6.84 1.01ZM6.75 4.60A1.85 1.85 0 1 0 10.45 4.60A1.85 1.85 0 1 0 6.75 4.60ZM1.71 8.10L1.81 7.57L3.39 7.57L3.49 8.10L3.80 8.28L4.31 8.10L5.09 9.47L4.69 9.82L4.69 10.18L5.09 10.53L4.31 11.90L3.80 11.72L3.49 11.90L3.39 12.43L1.81 12.43L1.71 11.90L1.40 11.72L0.89 11.90L0.11 10.53L0.51 10.18L0.51 9.82L0.11 9.47L0.89 8.10L1.40 8.28ZM1.70 10.00A0.90 0.90 0 1 0 3.50 10.00A0.90 0.90 0 1 0 1.70 10.00Z"/></svg>
<div class="rl" style="top:469.0px"></div>
<div class="a" style="left:64.16px;top:487px;font-size:13.4px;color:#696969;transform:scaleX(1.0141);">Battery Status</div>
<div class="a" style="left:401.55px;top:487px;font-size:13.4px;color:#696969;transform:scaleX(0.9927);">14</div>
<div class="a" style="left:609.50px;top:487px;font-size:13.4px;color:#696969;transform:scaleX(0.9134);">Ok</div>
<div class="a" style="left:1026.40px;top:487px;font-size:13.4px;color:#696969;transform:scaleX(0.9134);">Ok</div>
<div class="a" style="left:1443.40px;top:487px;font-size:13.4px;color:#696969;transform:scaleX(0.9134);">Ok</div>
<svg style="left:1529.6px;top:483.7px" width="14" height="13" viewBox="0 0 14 13"><path fill="#484848" fill-rule="evenodd" d="M7.30 0.82L7.53 0.13L9.67 0.13L9.90 0.82L10.36 1.01L11.00 0.68L12.52 2.20L12.19 2.84L12.38 3.30L13.07 3.53L13.07 5.67L12.38 5.90L12.19 6.36L12.52 7.00L11.00 8.52L10.36 8.19L9.90 8.38L9.67 9.07L7.53 9.07L7.30 8.38L6.84 8.19L6.20 8.52L4.68 7.00L5.01 6.36L4.82 5.90L4.13 5.67L4.13 3.53L4.82 3.30L5.01 2.84L4.68 2.20L6.20 0.68L6.84 1.01ZM6.75 4.60A1.85 1.85 0 1 0 10.45 4.60A1.85 1.85 0 1 0 6.75 4.60ZM1.71 8.10L1.81 7.57L3.39 7.57L3.49 8.10L3.80 8.28L4.31 8.10L5.09 9.47L4.69 9.82L4.69 10.18L5.09 10.53L4.31 11.90L3.80 11.72L3.49 11.90L3.39 12.43L1.81 12.43L1.71 11.90L1.40 11.72L0.89 11.90L0.11 10.53L0.51 10.18L0.51 9.82L0.11 9.47L0.89 8.10L1.40 8.28ZM1.70 10.00A0.90 0.90 0 1 0 3.50 10.00A0.90 0.90 0 1 0 1.70 10.00Z"/></svg>
<div class="rl" style="top:504.1px"></div>
<div class="a" style="left:64.58px;top:522px;font-size:13.4px;color:#696969;transform:scaleX(1.0029);">Chassis Status</div>
<div class="a" style="left:409.40px;top:522px;font-size:13.4px;color:#696969;transform:scaleX(0.9562);">3</div>
<div class="a" style="left:609.50px;top:522px;font-size:13.4px;color:#696969;transform:scaleX(0.9134);">Ok</div>
<div class="a" style="left:1026.40px;top:522px;font-size:13.4px;color:#696969;transform:scaleX(0.9134);">Ok</div>
<div class="a" style="left:1443.40px;top:522px;font-size:13.4px;color:#696969;transform:scaleX(0.9134);">Ok</div>
<svg style="left:1529.6px;top:518.7px" width="14" height="13" viewBox="0 0 14 13"><path fill="#484848" fill-rule="evenodd" d="M7.30 0.82L7.53 0.13L9.67 0.13L9.90 0.82L10.36 1.01L11.00 0.68L12.52 2.20L12.19 2.84L12.38 3.30L13.07 3.53L13.07 5.67L12.38 5.90L12.19 6.36L12.52 7.00L11.00 8.52L10.36 8.19L9.90 8.38L9.67 9.07L7.53 9.07L7.30 8.38L6.84 8.19L6.20 8.52L4.68 7.00L5.01 6.36L4.82 5.90L4.13 5.67L4.13 3.53L4.82 3.30L5.01 2.84L4.68 2.20L6.20 0.68L6.84 1.01ZM6.75 4.60A1.85 1.85 0 1 0 10.45 4.60A1.85 1.85 0 1 0 6.75 4.60ZM1.71 8.10L1.81 7.57L3.39 7.57L3.49 8.10L3.80 8.28L4.31 8.10L5.09 9.47L4.69 9.82L4.69 10.18L5.09 10.53L4.31 11.90L3.80 11.72L3.49 11.90L3.39 12.43L1.81 12.43L1.71 11.90L1.40 11.72L0.89 11.90L0.11 10.53L0.51 10.18L0.51 9.82L0.11 9.47L0.89 8.10L1.40 8.28ZM1.70 10.00A0.90 0.90 0 1 0 3.50 10.00A0.90 0.90 0 1 0 1.70 10.00Z"/></svg>
<div class="rl" style="top:539.3px"></div>
<div class="a" style="left:64.58px;top:557px;font-size:13.4px;color:#696969;">Cooling Device Status</div>
<div class="a" style="left:409.18px;top:557px;font-size:13.4px;color:#696969;transform:scaleX(0.9977);">7</div>
<div class="a" style="left:609.50px;top:557px;font-size:13.4px;color:#696969;transform:scaleX(0.9134);">Ok</div>
<div class="a" style="left:1026.40px;top:557px;font-size:13.4px;color:#696969;transform:scaleX(0.9134);">Ok</div>
<div class="a" style="left:1443.40px;top:557px;font-size:13.4px;color:#696969;transform:scaleX(0.9134);">Ok</div>
<svg style="left:1529.6px;top:553.7px" width="14" height="13" viewBox="0 0 14 13"><path fill="#484848" fill-rule="evenodd" d="M7.30 0.82L7.53 0.13L9.67 0.13L9.90 0.82L10.36 1.01L11.00 0.68L12.52 2.20L12.19 2.84L12.38 3.30L13.07 3.53L13.07 5.67L12.38 5.90L12.19 6.36L12.52 7.00L11.00 8.52L10.36 8.19L9.90 8.38L9.67 9.07L7.53 9.07L7.30 8.38L6.84 8.19L6.20 8.52L4.68 7.00L5.01 6.36L4.82 5.90L4.13 5.67L4.13 3.53L4.82 3.30L5.01 2.84L4.68 2.20L6.20 0.68L6.84 1.01ZM6.75 4.60A1.85 1.85 0 1 0 10.45 4.60A1.85 1.85 0 1 0 6.75 4.60ZM1.71 8.10L1.81 7.57L3.39 7.57L3.49 8.10L3.80 8.28L4.31 8.10L5.09 9.47L4.69 9.82L4.69 10.18L5.09 10.53L4.31 11.90L3.80 11.72L3.49 11.90L3.39 12.43L1.81 12.43L1.71 11.90L1.40 11.72L0.89 11.90L0.11 10.53L0.51 10.18L0.51 9.82L0.11 9.47L0.89 8.10L1.40 8.28ZM1.70 10.00A0.90 0.90 0 1 0 3.50 10.00A0.90 0.90 0 1 0 1.70 10.00Z"/></svg>
<div class="rl" style="top:574.4px"></div>
<div class="a" style="left:64.58px;top:592px;font-size:13.4px;color:#696969;transform:scaleX(1.0068);">Cooling Unit Status</div>
<div class="a" style="left:401.53px;top:592px;font-size:13.4px;color:#696969;transform:scaleX(1.0127);">12</div>
<div class="a" style="left:609.50px;top:592px;font-size:13.4px;color:#696969;transform:scaleX(0.9134);">Ok</div>
<div class="a" style="left:1026.40px;top:592px;font-size:13.4px;color:#696969;transform:scaleX(0.9134);">Ok</div>
<div class="a" style="left:1443.40px;top:592px;font-size:13.4px;color:#696969;transform:scaleX(0.9134);">Ok</div>
<svg style="left:1529.6px;top:588.7px" width="14" height="13" viewBox="0 0 14 13"><path fill="#484848" fill-rule="evenodd" d="M7.30 0.82L7.53 0.13L9.67 0.13L9.90 0.82L10.36 1.01L11.00 0.68L12.52 2.20L12.19 2.84L12.38 3.30L13.07 3.53L13.07 5.67L12.38 5.90L12.19 6.36L12.52 7.00L11.00 8.52L10.36 8.19L9.90 8.38L9.67 9.07L7.53 9.07L7.30 8.38L6.84 8.19L6.20 8.52L4.68 7.00L5.01 6.36L4.82 5.90L4.13 5.67L4.13 3.53L4.82 3.30L5.01 2.84L4.68 2.20L6.20 0.68L6.84 1.01ZM6.75 4.60A1.85 1.85 0 1 0 10.45 4.60A1.85 1.85 0 1 0 6.75 4.60ZM1.71 8.10L1.81 7.57L3.39 7.57L3.49 8.10L3.80 8.28L4.31 8.10L5.09 9.47L4.69 9.82L4.69 10.18L5.09 10.53L4.31 11.90L3.80 11.72L3.49 11.90L3.39 12.43L1.81 12.43L1.71 11.90L1.40 11.72L0.89 11.90L0.11 10.53L0.51 10.18L0.51 9.82L0.11 9.47L0.89 8.10L1.40 8.28ZM1.70 10.00A0.90 0.90 0 1 0 3.50 10.00A0.90 0.90 0 1 0 1.70 10.00Z"/></svg>
<div class="rl" style="top:609.5px"></div>
<div class="a" style="left:64.14px;top:627px;font-size:13.4px;color:#696969;transform:scaleX(1.0362);">Downtime</div>
<div class="a" style="left:405.25px;top:627px;font-size:13.4px;color:#696969;transform:scaleX(0.9294);">-4</div>
<svg style="left:1529.6px;top:623.7px" width="14" height="13" viewBox="0 0 14 13"><path fill="#484848" fill-rule="evenodd" d="M7.30 0.82L7.53 0.13L9.67 0.13L9.90 0.82L10.36 1.01L11.00 0.68L12.52 2.20L12.19 2.84L12.38 3.30L13.07 3.53L13.07 5.67L12.38 5.90L12.19 6.36L12.52 7.00L11.00 8.52L10.36 8.19L9.90 8.38L9.67 9.07L7.53 9.07L7.30 8.38L6.84 8.19L6.20 8.52L4.68 7.00L5.01 6.36L4.82 5.90L4.13 5.67L4.13 3.53L4.82 3.30L5.01 2.84L4.68 2.20L6.20 0.68L6.84 1.01ZM6.75 4.60A1.85 1.85 0 1 0 10.45 4.60A1.85 1.85 0 1 0 6.75 4.60ZM1.71 8.10L1.81 7.57L3.39 7.57L3.49 8.10L3.80 8.28L4.31 8.10L5.09 9.47L4.69 9.82L4.69 10.18L5.09 10.53L4.31 11.90L3.80 11.72L3.49 11.90L3.39 12.43L1.81 12.43L1.71 11.90L1.40 11.72L0.89 11.90L0.11 10.53L0.51 10.18L0.51 9.82L0.11 9.47L0.89 8.10L1.40 8.28ZM1.70 10.00A0.90 0.90 0 1 0 3.50 10.00A0.90 0.90 0 1 0 1.70 10.00Z"/></svg>
<div class="rl" style="top:644.6px"></div>
<div class="a" style="left:64.58px;top:663px;font-size:13.4px;color:#696969;">Global System Status</div>
<div class="a" style="left:409.18px;top:663px;font-size:13.4px;color:#696969;transform:scaleX(0.9977);">2</div>
<div class="a" style="left:609.50px;top:663px;font-size:13.4px;color:#696969;transform:scaleX(0.9134);">Ok</div>
<div class="a" style="left:1026.40px;top:663px;font-size:13.4px;color:#696969;transform:scaleX(0.9134);">Ok</div>
<div class="a" style="left:1443.40px;top:663px;font-size:13.4px;color:#696969;transform:scaleX(0.9134);">Ok</div>
<svg style="left:1529.6px;top:659.7px" width="14" height="13" viewBox="0 0 14 13"><path fill="#484848" fill-rule="evenodd" d="M7.30 0.82L7.53 0.13L9.67 0.13L9.90 0.82L10.36 1.01L11.00 0.68L12.52 2.20L12.19 2.84L12.38 3.30L13.07 3.53L13.07 5.67L12.38 5.90L12.19 6.36L12.52 7.00L11.00 8.52L10.36 8.19L9.90 8.38L9.67 9.07L7.53 9.07L7.30 8.38L6.84 8.19L6.20 8.52L4.68 7.00L5.01 6.36L4.82 5.90L4.13 5.67L4.13 3.53L4.82 3.30L5.01 2.84L4.68 2.20L6.20 0.68L6.84 1.01ZM6.75 4.60A1.85 1.85 0 1 0 10.45 4.60A1.85 1.85 0 1 0 6.75 4.60ZM1.71 8.10L1.81 7.57L3.39 7.57L3.49 8.10L3.80 8.28L4.31 8.10L5.09 9.47L4.69 9.82L4.69 10.18L5.09 10.53L4.31 11.90L3.80 11.72L3.49 11.90L3.39 12.43L1.81 12.43L1.71 11.90L1.40 11.72L0.89 11.90L0.11 10.53L0.51 10.18L0.51 9.82L0.11 9.47L0.89 8.10L1.40 8.28ZM1.70 10.00A0.90 0.90 0 1 0 3.50 10.00A0.90 0.90 0 1 0 1.70 10.00Z"/></svg>
<div class="rl" style="top:679.8px"></div>
<div class="a" style="left:64.01px;top:698px;font-size:13.4px;color:#696969;transform:scaleX(1.0247);">Intrusion Status</div>
<div class="a" style="left:401.54px;top:698px;font-size:13.4px;color:#696969;transform:scaleX(1.0026);">10</div>
<div class="a" style="left:609.50px;top:698px;font-size:13.4px;color:#696969;transform:scaleX(0.9134);">Ok</div>
<div class="a" style="left:1026.40px;top:698px;font-size:13.4px;color:#696969;transform:scaleX(0.9134);">Ok</div>
<div class="a" style="left:1443.40px;top:698px;font-size:13.4px;color:#696969;transform:scaleX(0.9134);">Ok</div>
<svg style="left:1529.6px;top:694.7px" width="14" height="13" viewBox="0 0 14 13"><path fill="#484848" fill-rule="evenodd" d="M7.30 0.82L7.53 0.13L9.67 0.13L9.90 0.82L10.36 1.01L11.00 0.68L12.52 2.20L12.19 2.84L12.38 3.30L13.07 3.53L13.07 5.67L12.38 5.90L12.19 6.36L12.52 7.00L11.00 8.52L10.36 8.19L9.90 8.38L9.67 9.07L7.53 9.07L7.30 8.38L6.84 8.19L6.20 8.52L4.68 7.00L5.01 6.36L4.82 5.90L4.13 5.67L4.13 3.53L4.82 3.30L5.01 2.84L4.68 2.20L6.20 0.68L6.84 1.01ZM6.75 4.60A1.85 1.85 0 1 0 10.45 4.60A1.85 1.85 0 1 0 6.75 4.60ZM1.71 8.10L1.81 7.57L3.39 7.57L3.49 8.10L3.80 8.28L4.31 8.10L5.09 9.47L4.69 9.82L4.69 10.18L5.09 10.53L4.31 11.90L3.80 11.72L3.49 11.90L3.39 12.43L1.81 12.43L1.71 11.90L1.40 11.72L0.89 11.90L0.11 10.53L0.51 10.18L0.51 9.82L0.11 9.47L0.89 8.10L1.40 8.28ZM1.70 10.00A0.90 0.90 0 1 0 3.50 10.00A0.90 0.90 0 1 0 1.70 10.00Z"/></svg>
<div class="rl" style="top:714.9px"></div>
<div class="a" style="left:64.17px;top:733px;font-size:13.4px;color:#696969;transform:scaleX(1.0076);">Memory Device Status</div>
<div class="a" style="left:409.25px;top:733px;font-size:13.4px;color:#696969;transform:scaleX(0.9870);">9</div>
<div class="a" style="left:609.50px;top:733px;font-size:13.4px;color:#696969;transform:scaleX(0.9134);">Ok</div>
<div class="a" style="left:1026.40px;top:733px;font-size:13.4px;color:#696969;transform:scaleX(0.9134);">Ok</div>
<div class="a" style="left:1443.40px;top:733px;font-size:13.4px;color:#696969;transform:scaleX(0.9134);">Ok</div>
<svg style="left:1529.6px;top:729.7px" width="14" height="13" viewBox="0 0 14 13"><path fill="#484848" fill-rule="evenodd" d="M7.30 0.82L7.53 0.13L9.67 0.13L9.90 0.82L10.36 1.01L11.00 0.68L12.52 2.20L12.19 2.84L12.38 3.30L13.07 3.53L13.07 5.67L12.38 5.90L12.19 6.36L12.52 7.00L11.00 8.52L10.36 8.19L9.90 8.38L9.67 9.07L7.53 9.07L7.30 8.38L6.84 8.19L6.20 8.52L4.68 7.00L5.01 6.36L4.82 5.90L4.13 5.67L4.13 3.53L4.82 3.30L5.01 2.84L4.68 2.20L6.20 0.68L6.84 1.01ZM6.75 4.60A1.85 1.85 0 1 0 10.45 4.60A1.85 1.85 0 1 0 6.75 4.60ZM1.71 8.10L1.81 7.57L3.39 7.57L3.49 8.10L3.80 8.28L4.31 8.10L5.09 9.47L4.69 9.82L4.69 10.18L5.09 10.53L4.31 11.90L3.80 11.72L3.49 11.90L3.39 12.43L1.81 12.43L1.71 11.90L1.40 11.72L0.89 11.90L0.11 10.53L0.51 10.18L0.51 9.82L0.11 9.47L0.89 8.10L1.40 8.28ZM1.70 10.00A0.90 0.90 0 1 0 3.50 10.00A0.90 0.90 0 1 0 1.70 10.00Z"/></svg>
<div class="rl" style="top:750.0px"></div>
<div class="a" style="left:64.18px;top:768px;font-size:13.4px;color:#696969;">Power Supply Status</div>
<div class="a" style="left:409.61px;top:768px;font-size:13.4px;color:#696969;transform:scaleX(0.8999);">4</div>
<div class="a" style="left:609.50px;top:768px;font-size:13.4px;color:#696969;transform:scaleX(0.9134);">Ok</div>
<div class="a" style="left:1026.40px;top:768px;font-size:13.4px;color:#696969;transform:scaleX(0.9134);">Ok</div>
<div class="a" style="left:1443.40px;top:768px;font-size:13.4px;color:#696969;transform:scaleX(0.9134);">Ok</div>
<svg style="left:1529.6px;top:764.7px" width="14" height="13" viewBox="0 0 14 13"><path fill="#484848" fill-rule="evenodd" d="M7.30 0.82L7.53 0.13L9.67 0.13L9.90 0.82L10.36 1.01L11.00 0.68L12.52 2.20L12.19 2.84L12.38 3.30L13.07 3.53L13.07 5.67L12.38 5.90L12.19 6.36L12.52 7.00L11.00 8.52L10.36 8.19L9.90 8.38L9.67 9.07L7.53 9.07L7.30 8.38L6.84 8.19L6.20 8.52L4.68 7.00L5.01 6.36L4.82 5.90L4.13 5.67L4.13 3.53L4.82 3.30L5.01 2.84L4.68 2.20L6.20 0.68L6.84 1.01ZM6.75 4.60A1.85 1.85 0 1 0 10.45 4.60A1.85 1.85 0 1 0 6.75 4.60ZM1.71 8.10L1.81 7.57L3.39 7.57L3.49 8.10L3.80 8.28L4.31 8.10L5.09 9.47L4.69 9.82L4.69 10.18L5.09 10.53L4.31 11.90L3.80 11.72L3.49 11.90L3.39 12.43L1.81 12.43L1.71 11.90L1.40 11.72L0.89 11.90L0.11 10.53L0.51 10.18L0.51 9.82L0.11 9.47L0.89 8.10L1.40 8.28ZM1.70 10.00A0.90 0.90 0 1 0 3.50 10.00A0.90 0.90 0 1 0 1.70 10.00Z"/></svg>
<div class="rl" style="top:785.2px"></div>
<div class="a" style="left:64.17px;top:803px;font-size:13.4px;color:#696969;transform:scaleX(1.0057);">Power Unit Status</div>
<div class="a" style="left:401.45px;top:803px;font-size:13.4px;color:#696969;transform:scaleX(1.0947);">11</div>
<div class="a" style="left:609.50px;top:803px;font-size:13.4px;color:#696969;transform:scaleX(0.9134);">Ok</div>
<div class="a" style="left:1026.40px;top:803px;font-size:13.4px;color:#696969;transform:scaleX(0.9134);">Ok</div>
<div class="a" style="left:1443.40px;top:803px;font-size:13.4px;color:#696969;transform:scaleX(0.9134);">Ok</div>
<svg style="left:1529.6px;top:799.7px" width="14" height="13" viewBox="0 0 14 13"><path fill="#484848" fill-rule="evenodd" d="M7.30 0.82L7.53 0.13L9.67 0.13L9.90 0.82L10.36 1.01L11.00 0.68L12.52 2.20L12.19 2.84L12.38 3.30L13.07 3.53L13.07 5.67L12.38 5.90L12.19 6.36L12.52 7.00L11.00 8.52L10.36 8.19L9.90 8.38L9.67 9.07L7.53 9.07L7.30 8.38L6.84 8.19L6.20 8.52L4.68 7.00L5.01 6.36L4.82 5.90L4.13 5.67L4.13 3.53L4.82 3.30L5.01 2.84L4.68 2.20L6.20 0.68L6.84 1.01ZM6.75 4.60A1.85 1.85 0 1 0 10.45 4.60A1.85 1.85 0 1 0 6.75 4.60ZM1.71 8.10L1.81 7.57L3.39 7.57L3.49 8.10L3.80 8.28L4.31 8.10L5.09 9.47L4.69 9.82L4.69 10.18L5.09 10.53L4.31 11.90L3.80 11.72L3.49 11.90L3.39 12.43L1.81 12.43L1.71 11.90L1.40 11.72L0.89 11.90L0.11 10.53L0.51 10.18L0.51 9.82L0.11 9.47L0.89 8.10L1.40 8.28ZM1.70 10.00A0.90 0.90 0 1 0 3.50 10.00A0.90 0.90 0 1 0 1.70 10.00Z"/></svg>
<div class="rl" style="top:820.3px"></div>
<div class="a" style="left:64.16px;top:838px;font-size:13.4px;color:#696969;transform:scaleX(1.0148);">Processor Status</div>
<div class="a" style="left:401.54px;top:838px;font-size:13.4px;color:#696969;transform:scaleX(1.0076);">13</div>
<div class="a" style="left:609.50px;top:838px;font-size:13.4px;color:#696969;transform:scaleX(0.9134);">Ok</div>
<div class="a" style="left:1026.40px;top:838px;font-size:13.4px;color:#696969;transform:scaleX(0.9134);">Ok</div>
<div class="a" style="left:1443.40px;top:838px;font-size:13.4px;color:#696969;transform:scaleX(0.9134);">Ok</div>
<svg style="left:1529.6px;top:834.7px" width="14" height="13" viewBox="0 0 14 13"><path fill="#484848" fill-rule="evenodd" d="M7.30 0.82L7.53 0.13L9.67 0.13L9.90 0.82L10.36 1.01L11.00 0.68L12.52 2.20L12.19 2.84L12.38 3.30L13.07 3.53L13.07 5.67L12.38 5.90L12.19 6.36L12.52 7.00L11.00 8.52L10.36 8.19L9.90 8.38L9.67 9.07L7.53 9.07L7.30 8.38L6.84 8.19L6.20 8.52L4.68 7.00L5.01 6.36L4.82 5.90L4.13 5.67L4.13 3.53L4.82 3.30L5.01 2.84L4.68 2.20L6.20 0.68L6.84 1.01ZM6.75 4.60A1.85 1.85 0 1 0 10.45 4.60A1.85 1.85 0 1 0 6.75 4.60ZM1.71 8.10L1.81 7.57L3.39 7.57L3.49 8.10L3.80 8.28L4.31 8.10L5.09 9.47L4.69 9.82L4.69 10.18L5.09 10.53L4.31 11.90L3.80 11.72L3.49 11.90L3.39 12.43L1.81 12.43L1.71 11.90L1.40 11.72L0.89 11.90L0.11 10.53L0.51 10.18L0.51 9.82L0.11 9.47L0.89 8.10L1.40 8.28ZM1.70 10.00A0.90 0.90 0 1 0 3.50 10.00A0.90 0.90 0 1 0 1.70 10.00Z"/></svg>
<div class="rl" style="top:855.4px"></div>
<div class="a" style="left:64.98px;top:873px;font-size:13.4px;color:#696969;transform:scaleX(1.0106);">Temperature Status</div>
<div class="a" style="left:409.33px;top:873px;font-size:13.4px;color:#696969;transform:scaleX(0.9662);">8</div>
<div class="a" style="left:609.50px;top:873px;font-size:13.4px;color:#696969;transform:scaleX(0.9134);">Ok</div>
<div class="a" style="left:1026.40px;top:873px;font-size:13.4px;color:#696969;transform:scaleX(0.9134);">Ok</div>
<div class="a" style="left:1443.40px;top:873px;font-size:13.4px;color:#696969;transform:scaleX(0.9134);">Ok</div>
<svg style="left:1529.6px;top:869.7px" width="14" height="13" viewBox="0 0 14 13"><path fill="#484848" fill-rule="evenodd" d="M7.30 0.82L7.53 0.13L9.67 0.13L9.90 0.82L10.36 1.01L11.00 0.68L12.52 2.20L12.19 2.84L12.38 3.30L13.07 3.53L13.07 5.67L12.38 5.90L12.19 6.36L12.52 7.00L11.00 8.52L10.36 8.19L9.90 8.38L9.67 9.07L7.53 9.07L7.30 8.38L6.84 8.19L6.20 8.52L4.68 7.00L5.01 6.36L4.82 5.90L4.13 5.67L4.13 3.53L4.82 3.30L5.01 2.84L4.68 2.20L6.20 0.68L6.84 1.01ZM6.75 4.60A1.85 1.85 0 1 0 10.45 4.60A1.85 1.85 0 1 0 6.75 4.60ZM1.71 8.10L1.81 7.57L3.39 7.57L3.49 8.10L3.80 8.28L4.31 8.10L5.09 9.47L4.69 9.82L4.69 10.18L5.09 10.53L4.31 11.90L3.80 11.72L3.49 11.90L3.39 12.43L1.81 12.43L1.71 11.90L1.40 11.72L0.89 11.90L0.11 10.53L0.51 10.18L0.51 9.82L0.11 9.47L0.89 8.10L1.40 8.28ZM1.70 10.00A0.90 0.90 0 1 0 3.50 10.00A0.90 0.90 0 1 0 1.70 10.00Z"/></svg>
<div class="rl" style="top:890.6px"></div>
<div class="a" style="left:65.25px;top:908px;font-size:13.4px;color:#696969;transform:scaleX(1.0137);">Voltage Status</div>
<div class="a" style="left:409.33px;top:908px;font-size:13.4px;color:#696969;transform:scaleX(0.9662);">5</div>
<div class="a" style="left:609.50px;top:908px;font-size:13.4px;color:#696969;transform:scaleX(0.9134);">Ok</div>
<div class="a" style="left:1026.40px;top:908px;font-size:13.4px;color:#696969;transform:scaleX(0.9134);">Ok</div>
<div class="a" style="left:1443.40px;top:908px;font-size:13.4px;color:#696969;transform:scaleX(0.9134);">Ok</div>
<svg style="left:1529.6px;top:904.7px" width="14" height="13" viewBox="0 0 14 13"><path fill="#484848" fill-rule="evenodd" d="M7.30 0.82L7.53 0.13L9.67 0.13L9.90 0.82L10.36 1.01L11.00 0.68L12.52 2.20L12.19 2.84L12.38 3.30L13.07 3.53L13.07 5.67L12.38 5.90L12.19 6.36L12.52 7.00L11.00 8.52L10.36 8.19L9.90 8.38L9.67 9.07L7.53 9.07L7.30 8.38L6.84 8.19L6.20 8.52L4.68 7.00L5.01 6.36L4.82 5.90L4.13 5.67L4.13 3.53L4.82 3.30L5.01 2.84L4.68 2.20L6.20 0.68L6.84 1.01ZM6.75 4.60A1.85 1.85 0 1 0 10.45 4.60A1.85 1.85 0 1 0 6.75 4.60ZM1.71 8.10L1.81 7.57L3.39 7.57L3.49 8.10L3.80 8.28L4.31 8.10L5.09 9.47L4.69 9.82L4.69 10.18L5.09 10.53L4.31 11.90L3.80 11.72L3.49 11.90L3.39 12.43L1.81 12.43L1.71 11.90L1.40 11.72L0.89 11.90L0.11 10.53L0.51 10.18L0.51 9.82L0.11 9.47L0.89 8.10L1.40 8.28ZM1.70 10.00A0.90 0.90 0 1 0 3.50 10.00A0.90 0.90 0 1 0 1.70 10.00Z"/></svg>
<div class="rl" style="top:925.7px"></div>
</body></html>
